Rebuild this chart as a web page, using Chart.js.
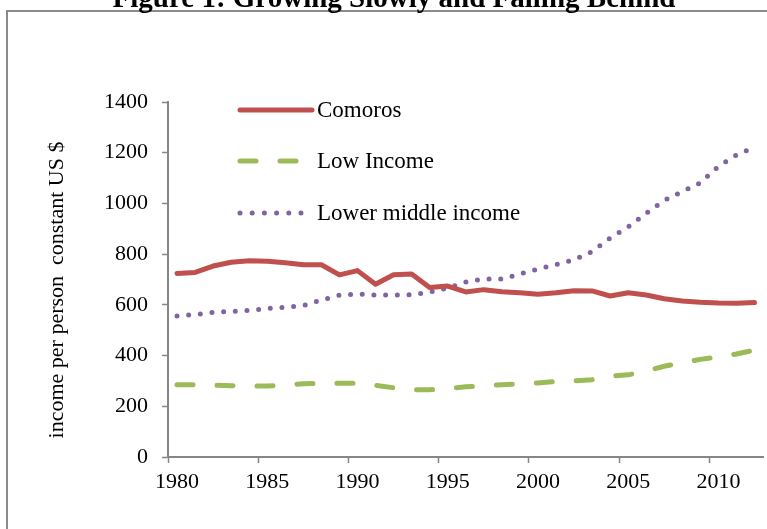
<!DOCTYPE html>
<html lang="nl">
<head>
<meta charset="utf-8">
<title>Figure 1</title>
<script src="https://cdn.jsdelivr.net/npm/chart.js@4.4.1/dist/chart.umd.min.js"></script>
<style>
    html, body { margin: 0; padding: 0; background: #fff; overflow: hidden; }
    canvas { display: block; }
</style>
</head>
<body>
<canvas id="grafiek" width="767" height="529"></canvas>
<script>
"use strict";

// Jaren op de x-as (één categorie per jaar).
const jaren = [1980, 1981, 1982, 1983, 1984, 1985, 1986, 1987, 1988, 1989,
               1990, 1991, 1992, 1993, 1994, 1995, 1996, 1997, 1998, 1999,
               2000, 2001, 2002, 2003, 2004, 2005, 2006, 2007, 2008, 2009,
               2010, 2011, 2012];

// Inkomen per persoon in constante US dollars.
const comoros = [724, 728, 753, 768, 774, 772, 766, 758, 758, 718,
                 735, 681, 719, 722, 668, 674, 651, 660, 652, 648,
                 642, 648, 656, 655, 635, 648, 639, 624, 615, 610,
                 607, 606, 609];

const lageInkomens = [285, 285, 283, 281, 280, 280, 284, 289, 291, 291,
                      291, 283, 273, 265, 265, 270, 277, 281, 285, 289,
                      292, 298, 300, 305, 319, 324, 339, 358, 371, 385,
                      395, 406, 421];

const lagereMidden = [556, 562, 570, 574, 578, 586, 591, 597, 619, 638,
                      643, 639, 639, 640, 650, 666, 690, 702, 702, 722,
                      741, 759, 778, 810, 863, 907, 961, 1012, 1047, 1081,
                      1146, 1191, 1222];

const reeksNamen = ["Comoros", "Low Income", "Lower middle income"];

// Bereik en stapgrootte van de y-as.
const yMin = 0;
const yMax = 1400;
const yStap = 200;

const titel = "Figure 1: Growing Slowly and Falling Behind";
const yTitel = "income per person  constant US $";

const asKleur = "#868686";
const lettertype = "'Liberation Serif', 'Times New Roman', serif";

window.onload = function() {
    tekenGrafiek();
};

// Tekent kader, titel, y-astitel en de legenda binnen het plotvlak.
const tekstPlugin = {
    id: "kaderEnTekst",
    beforeDraw(chart) {
        const ctx = chart.ctx;
        ctx.save();
        ctx.fillStyle = "#fff";
        ctx.fillRect(0, 0, chart.width, chart.height);

        // Grijs kader rond de figuur
        ctx.strokeStyle = "#8a8a8a";
        ctx.lineWidth = 2;
        ctx.strokeRect(7, 11, chart.width + 40, chart.height + 40);

        // Titel boven het kader (valt deels buiten beeld)
        ctx.fillStyle = "#000";
        ctx.font = "bold 29px " + lettertype;
        ctx.textAlign = "center";
        ctx.textBaseline = "alphabetic";
        ctx.fillText(titel, 394, 7);
        ctx.restore();
    },
    afterDraw(chart) {
        const ctx = chart.ctx;
        ctx.save();

        // Gedraaide titel langs de y-as
        ctx.translate(57, 290);
        ctx.rotate(-Math.PI / 2);
        ctx.fillStyle = "#000";
        ctx.font = "22px " + lettertype;
        ctx.textAlign = "center";
        ctx.textBaseline = "middle";
        ctx.fillText(yTitel, 0, 0);
        ctx.restore();

        // Legenda: korte lijn in de stijl van de reeks, met de naam erachter
        const rijen = [110, 161, 213];
        chart.data.datasets.forEach((ds, i) => {
            const streep = ds.borderDash || [];
            // Een stippellijn stopt iets eerder, zodat de laatste stip niet tegen de tekst komt
            const eind = streep.length && streep[0] === 0 ? 304 : 312;
            ctx.save();
            ctx.strokeStyle = ds.borderColor;
            ctx.lineWidth = ds.borderWidth;
            ctx.lineCap = ds.borderCapStyle;
            ctx.setLineDash(streep.length && streep[0] === 0 ? [0, 12.2] : streep);
            ctx.beginPath();
            ctx.moveTo(240, rijen[i]);
            ctx.lineTo(eind, rijen[i]);
            ctx.stroke();
            ctx.fillStyle = "#000";
            ctx.font = "23px " + lettertype;
            ctx.textAlign = "left";
            ctx.textBaseline = "middle";
            ctx.fillText(ds.label, 317, rijen[i] + 1);
            ctx.restore();
        });
    }
};

function tekenGrafiek() {
    const canvas = document.getElementById("grafiek").getContext("2d");

    new Chart(canvas, {
        type: "line",
        data: {
            labels: jaren,
            datasets: [
                {
                    label: reeksNamen[0],
                    data: comoros,
                    borderColor: "#C0504D",
                    borderWidth: 5,
                    borderCapStyle: "round",
                    borderJoinStyle: "round",
                    pointRadius: 0,
                    tension: 0
                },
                {
                    label: reeksNamen[1],
                    data: lageInkomens,
                    borderColor: "#9BBB59",
                    borderWidth: 5,
                    borderCapStyle: "round",
                    borderDash: [16, 24],
                    pointRadius: 0,
                    tension: 0
                },
                {
                    label: reeksNamen[2],
                    data: lagereMidden,
                    borderColor: "#8064A2",
                    borderWidth: 5,
                    borderCapStyle: "round",
                    borderDash: [0, 11.7],
                    pointRadius: 0,
                    tension: 0
                }
            ]
        },
        options: {
            responsive: false,
            animation: false,
            devicePixelRatio: 1,
            layout: {
                padding: { left: 0, right: 3.5, top: 102, bottom: 22 }
            },
            plugins: {
                legend: { display: false },
                title: { display: false },
                tooltip: { enabled: false }
            },
            scales: {
                x: {
                    type: "category",
                    offset: true,
                    grid: {
                        offset: true,
                        drawOnChartArea: false,
                        tickLength: 6,
                        tickWidth: 1.5,
                        // Alleen een streepje bij elk vijfde jaar
                        tickColor: ctx => (ctx.index % 5 === 0 ? asKleur : "rgba(0,0,0,0)")
                    },
                    border: { color: asKleur, width: 2 },
                    ticks: {
                        autoSkip: false,
                        maxRotation: 0,
                        minRotation: 0,
                        padding: 6,
                        color: "#000",
                        font: { family: lettertype, size: 22 },
                        callback: function(waarde, index) {
                            const jaar = jaren[index];
                            return jaar % 5 === 0 ? String(jaar) : "";
                        }
                    },
                    afterFit: schaal => { schaal.height = 50; }
                },
                y: {
                    min: yMin,
                    max: yMax,
                    grid: {
                        drawOnChartArea: false,
                        tickLength: 6,
                        tickWidth: 1.5,
                        tickColor: asKleur
                    },
                    border: { color: asKleur, width: 2 },
                    ticks: {
                        stepSize: yStap,
                        padding: 14,
                        color: "#000",
                        font: { family: lettertype, size: 22 },
                        callback: waarde => String(waarde)
                    },
                    afterFit: schaal => { schaal.width = 168; }
                }
            }
        },
        plugins: [tekstPlugin]
    });
}
</script>
</body>
</html>
